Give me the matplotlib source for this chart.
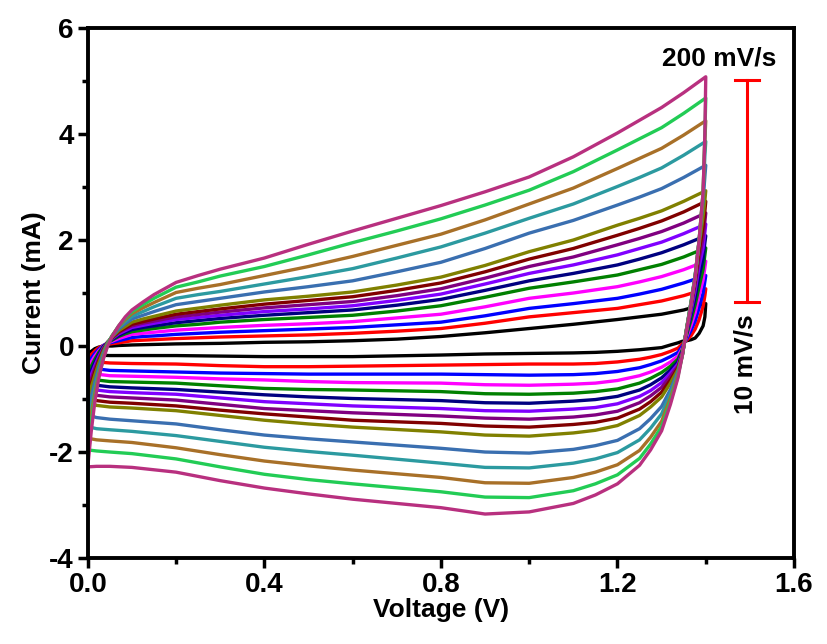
import matplotlib
matplotlib.use("Agg")
import matplotlib.pyplot as plt
from matplotlib.ticker import MultipleLocator

plt.rcParams['font.family'] = ['Liberation Sans', 'DejaVu Sans']
plt.rcParams['font.weight'] = 'bold'
plt.rcParams['axes.unicode_minus'] = False

# scan rates, slowest (10 mV/s) to fastest (200 mV/s)
rates = [10, 20, 30, 40, 50, 60, 70, 80, 90, 100, 120, 140, 160, 180, 200]
colors = ['#000000', '#ff0000', '#0000ff', '#ff00ff', '#008000', '#000080',
          '#8000ff', '#800080', '#800000', '#808000', '#3a6fb0', '#2c9aa0',
          '#a87028', '#22cc55', '#b8307f']

# forward (anodic) scan: voltage grid, one row of currents (mA) per voltage, one column per scan rate
v_fwd = [0.0, 0.008, 0.016, 0.025, 0.035, 0.045, 0.055, 0.07, 0.085, 0.1, 0.125, 0.15, 0.2, 0.25,
         0.3, 0.4, 0.5, 0.6, 0.7, 0.8, 0.9, 1.0, 1.1, 1.2, 1.25, 1.3, 1.35, 1.4]
i_fwd = [
    [-0.15, -0.25, -0.35, -0.45, -0.55, -0.65, -0.75, -0.85, -0.95, -1.05, -1.30, -1.52, -1.74, -1.96, -2.28],
    [-0.10, -0.16, -0.23, -0.30, -0.38, -0.46, -0.54, -0.62, -0.70, -0.78, -0.96, -1.12, -1.27, -1.42, -1.60],
    [-0.05, -0.09, -0.14, -0.19, -0.25, -0.31, -0.37, -0.43, -0.49, -0.55, -0.68, -0.80, -0.90, -0.99, -1.05],
    [-0.02, -0.03, -0.06, -0.09, -0.12, -0.16, -0.20, -0.24, -0.28, -0.32, -0.40, -0.47, -0.53, -0.58, -0.60],
    [-0.01, 0.01, 0.01, 0.00, -0.01, -0.02, -0.04, -0.06, -0.08, -0.10, -0.14, -0.18, -0.21, -0.24, -0.25],
    [0.00, 0.03, 0.05, 0.06, 0.07, 0.07, 0.07, 0.07, 0.07, 0.07, 0.06, 0.05, 0.04, 0.02, 0.00],
    [0.00, 0.045, 0.07, 0.09, 0.11, 0.13, 0.14, 0.15, 0.16, 0.17, 0.18, 0.19, 0.19, 0.19, 0.18],
    [0.01, 0.06, 0.10, 0.14, 0.18, 0.20, 0.23, 0.25, 0.27, 0.29, 0.32, 0.35, 0.37, 0.38, 0.38],
    [0.015, 0.08, 0.13, 0.18, 0.23, 0.26, 0.29, 0.32, 0.34, 0.37, 0.42, 0.46, 0.50, 0.53, 0.55],
    [0.02, 0.10, 0.16, 0.22, 0.27, 0.31, 0.35, 0.38, 0.41, 0.45, 0.51, 0.56, 0.61, 0.65, 0.68],
    [0.025, 0.11, 0.18, 0.24, 0.30, 0.35, 0.39, 0.43, 0.46, 0.51, 0.58, 0.65, 0.72, 0.78, 0.83],
    [0.03, 0.12, 0.19, 0.26, 0.33, 0.38, 0.43, 0.47, 0.51, 0.56, 0.65, 0.74, 0.82, 0.90, 0.97],
    [0.04, 0.14, 0.22, 0.30, 0.38, 0.44, 0.50, 0.55, 0.60, 0.66, 0.78, 0.90, 1.01, 1.11, 1.20],
    [0.045, 0.155, 0.24, 0.325, 0.41, 0.48, 0.54, 0.595, 0.65, 0.715, 0.84, 0.97, 1.09, 1.21, 1.33],
    [0.05, 0.17, 0.26, 0.35, 0.45, 0.52, 0.58, 0.64, 0.70, 0.77, 0.90, 1.03, 1.16, 1.32, 1.45],
    [0.07, 0.19, 0.29, 0.39, 0.50, 0.58, 0.65, 0.72, 0.79, 0.87, 1.02, 1.17, 1.33, 1.50, 1.66],
    [0.08, 0.21, 0.32, 0.42, 0.54, 0.63, 0.70, 0.78, 0.86, 0.94, 1.12, 1.31, 1.50, 1.72, 1.92],
    [0.10, 0.24, 0.35, 0.46, 0.58, 0.68, 0.76, 0.84, 0.93, 1.02, 1.23, 1.46, 1.69, 1.95, 2.17],
    [0.13, 0.28, 0.40, 0.53, 0.66, 0.77, 0.86, 0.95, 1.05, 1.15, 1.40, 1.66, 1.90, 2.17, 2.41],
    [0.18, 0.33, 0.45, 0.60, 0.76, 0.88, 0.98, 1.08, 1.19, 1.30, 1.58, 1.87, 2.11, 2.40, 2.65],
    [0.25, 0.43, 0.57, 0.74, 0.92, 1.05, 1.17, 1.28, 1.40, 1.52, 1.84, 2.13, 2.38, 2.66, 2.91],
    [0.33, 0.55, 0.71, 0.90, 1.09, 1.23, 1.37, 1.50, 1.64, 1.78, 2.13, 2.41, 2.68, 2.94, 3.19],
    [0.41, 0.63, 0.80, 1.00, 1.21, 1.37, 1.53, 1.68, 1.84, 2.00, 2.37, 2.68, 2.98, 3.29, 3.57],
    [0.50, 0.71, 0.90, 1.12, 1.34, 1.53, 1.72, 1.91, 2.09, 2.28, 2.66, 3.01, 3.35, 3.70, 4.02],
    [0.55, 0.78, 0.98, 1.21, 1.44, 1.64, 1.84, 2.03, 2.22, 2.41, 2.81, 3.18, 3.54, 3.91, 4.26],
    [0.60, 0.85, 1.07, 1.31, 1.54, 1.76, 1.96, 2.16, 2.36, 2.55, 2.97, 3.36, 3.73, 4.12, 4.50],
    [0.68, 0.95, 1.19, 1.44, 1.68, 1.91, 2.12, 2.32, 2.53, 2.73, 3.18, 3.60, 3.98, 4.39, 4.78],
    [0.80, 1.08, 1.33, 1.60, 1.85, 2.08, 2.30, 2.51, 2.73, 2.93, 3.41, 3.86, 4.25, 4.68, 5.08],
]

# reverse (cathodic) scan
v_rev = [1.4, 1.398, 1.394, 1.385, 1.376, 1.367, 1.357, 1.347, 1.337, 1.32, 1.3, 1.275, 1.25,
         1.2, 1.15, 1.1, 1.0, 0.9, 0.8, 0.6, 0.5, 0.4, 0.3, 0.2, 0.1, 0.05, 0.02, 0.0]
i_rev = [
    [0.80, 1.08, 1.33, 1.60, 1.85, 2.08, 2.30, 2.51, 2.73, 2.93, 3.41, 3.86, 4.25, 4.68, 5.08],
    [0.55, 0.95, 1.22, 1.48, 1.72, 1.95, 2.15, 2.35, 2.55, 2.75, 3.20, 3.60, 3.90, 4.00, 4.00],
    [0.38, 0.75, 1.00, 1.25, 1.45, 1.65, 1.85, 2.05, 2.25, 2.45, 2.75, 2.85, 2.90, 2.90, 2.90],
    [0.24, 0.50, 0.72, 0.95, 1.12, 1.32, 1.50, 1.65, 1.80, 1.90, 1.98, 2.00, 2.00, 2.00, 2.00],
    [0.15, 0.32, 0.47, 0.63, 0.78, 0.92, 1.05, 1.15, 1.25, 1.30, 1.33, 1.33, 1.32, 1.32, 1.31],
    [0.12, 0.20, 0.30, 0.40, 0.50, 0.60, 0.68, 0.75, 0.80, 0.84, 0.85, 0.84, 0.83, 0.82, 0.80],
    [0.10, 0.11, 0.14, 0.18, 0.22, 0.26, 0.29, 0.31, 0.33, 0.34, 0.35, 0.35, 0.35, 0.34, 0.32],
    [0.09, 0.04, 0.00, -0.04, -0.07, -0.10, -0.12, -0.14, -0.15, -0.16, -0.17, -0.17, -0.17, -0.17, -0.17],
    [0.06, -0.04, -0.12, -0.19, -0.25, -0.30, -0.34, -0.38, -0.41, -0.44, -0.48, -0.51, -0.54, -0.57, -0.60],
    [0.02, -0.10, -0.20, -0.30, -0.38, -0.45, -0.51, -0.57, -0.64, -0.70, -0.82, -0.90, -0.98, -1.05, -1.10],
    [-0.03, -0.16, -0.28, -0.40, -0.50, -0.60, -0.69, -0.78, -0.87, -0.96, -1.14, -1.28, -1.42, -1.52, -1.60],
    [-0.05, -0.21, -0.35, -0.49, -0.61, -0.73, -0.84, -0.94, -1.05, -1.15, -1.37, -1.55, -1.72, -1.85, -1.96],
    [-0.07, -0.25, -0.41, -0.56, -0.70, -0.83, -0.95, -1.07, -1.19, -1.31, -1.56, -1.77, -1.97, -2.12, -2.25],
    [-0.10, -0.30, -0.48, -0.65, -0.81, -0.95, -1.09, -1.23, -1.36, -1.50, -1.78, -2.01, -2.24, -2.43, -2.60],
    [-0.12, -0.33, -0.52, -0.70, -0.86, -1.01, -1.16, -1.30, -1.44, -1.59, -1.88, -2.13, -2.38, -2.60, -2.81],
    [-0.13, -0.34, -0.54, -0.72, -0.89, -1.04, -1.19, -1.34, -1.48, -1.64, -1.95, -2.21, -2.48, -2.73, -2.97],
    [-0.14, -0.34, -0.55, -0.74, -0.91, -1.08, -1.23, -1.38, -1.53, -1.70, -2.02, -2.30, -2.59, -2.86, -3.13],
    [-0.15, -0.35, -0.54, -0.73, -0.90, -1.07, -1.22, -1.36, -1.51, -1.68, -2.00, -2.29, -2.58, -2.85, -3.17],
    [-0.17, -0.36, -0.53, -0.70, -0.86, -1.03, -1.18, -1.32, -1.46, -1.62, -1.93, -2.21, -2.48, -2.75, -3.05],
    [-0.20, -0.38, -0.53, -0.69, -0.83, -0.99, -1.13, -1.26, -1.40, -1.53, -1.81, -2.06, -2.34, -2.60, -2.89],
    [-0.20, -0.39, -0.53, -0.67, -0.82, -0.96, -1.09, -1.22, -1.34, -1.47, -1.75, -1.99, -2.26, -2.52, -2.79],
    [-0.20, -0.39, -0.52, -0.64, -0.80, -0.92, -1.05, -1.18, -1.28, -1.40, -1.68, -1.91, -2.17, -2.42, -2.68],
    [-0.19, -0.37, -0.51, -0.62, -0.75, -0.87, -0.98, -1.10, -1.21, -1.31, -1.58, -1.80, -2.05, -2.28, -2.54],
    [-0.18, -0.34, -0.49, -0.59, -0.70, -0.82, -0.91, -1.02, -1.13, -1.22, -1.47, -1.69, -1.92, -2.13, -2.38],
    [-0.18, -0.33, -0.47, -0.57, -0.68, -0.79, -0.88, -0.98, -1.08, -1.17, -1.41, -1.61, -1.82, -2.03, -2.29],
    [-0.18, -0.32, -0.46, -0.56, -0.67, -0.77, -0.86, -0.96, -1.06, -1.15, -1.38, -1.58, -1.79, -2.00, -2.27],
    [-0.17, -0.30, -0.43, -0.53, -0.64, -0.74, -0.83, -0.93, -1.03, -1.12, -1.35, -1.56, -1.77, -1.98, -2.27],
    [-0.15, -0.25, -0.35, -0.45, -0.55, -0.65, -0.75, -0.85, -0.95, -1.05, -1.30, -1.52, -1.74, -1.96, -2.28],
]

fig = plt.figure(figsize=(8.28, 6.44), dpi=100)
ax = fig.add_axes([0.106, 0.1335, 0.853, 0.823])

for k in range(len(rates)):
    vv = v_fwd + v_rev
    ii = [row[k] for row in i_fwd] + [row[k] for row in i_rev]
    ax.plot(vv, ii, color=colors[k], lw=2.4, solid_joinstyle='round')

ax.set_xlim(0, 1.6)
ax.set_ylim(-4, 6)
ax.xaxis.set_major_locator(MultipleLocator(0.4))
ax.xaxis.set_minor_locator(MultipleLocator(0.2))
ax.yaxis.set_major_locator(MultipleLocator(2))
ax.yaxis.set_minor_locator(MultipleLocator(1))
ax.xaxis.set_major_formatter(plt.FuncFormatter(lambda x, p: '%.1f' % x))
ax.tick_params(which='major', direction='out', length=7, width=2.5, labelsize=20, pad=3)
ax.tick_params(which='minor', direction='out', length=4, width=2.5)
for s in ax.spines.values():
    s.set_linewidth(2.8)

ax.set_xlabel('Voltage (V)', fontsize=19, fontweight='bold', labelpad=0)
ax.set_ylabel('Current (mA)', fontsize=19, fontweight='bold', labelpad=2)

# scan-rate bar
ax.plot([1.493, 1.493], [0.83, 5.02], color='red', lw=2.2)
ax.plot([1.466, 1.52], [5.02, 5.02], color='red', lw=2.2)
ax.plot([1.466, 1.52], [0.83, 0.83], color='red', lw=2.2)
ax.text(1.43, 5.43, '200 mV/s', fontsize=19, fontweight='bold', ha='center', va='center')
ax.text(1.489, -0.35, '10 mV/s', fontsize=19, fontweight='bold', ha='center', va='center', rotation=90)

fig.savefig('out.png', dpi=100)
